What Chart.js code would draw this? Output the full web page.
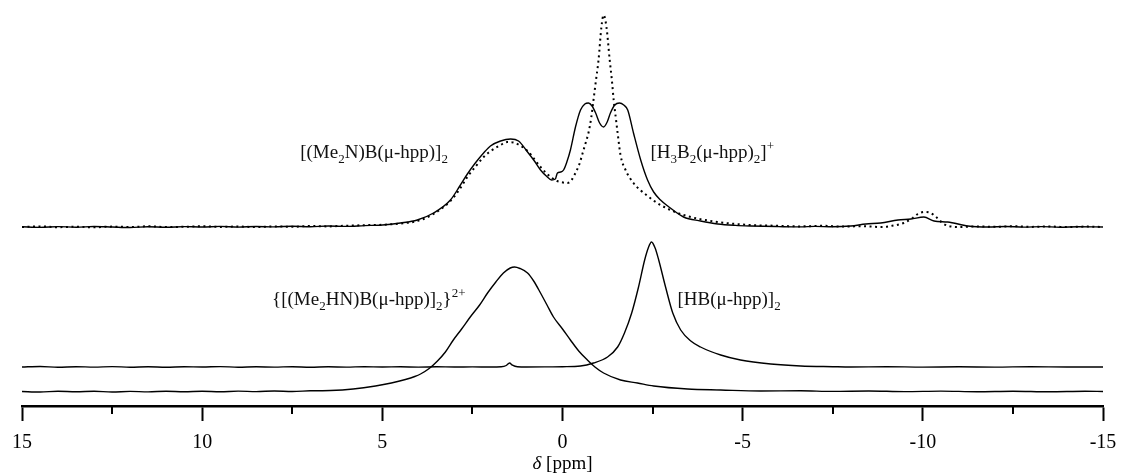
<!DOCTYPE html>
<html>
<head>
<meta charset="utf-8">
<script src="https://cdn.jsdelivr.net/npm/chart.js@4.4.1/dist/chart.umd.min.js"></script>
<style>
html, body { margin: 0; padding: 0; background: #fff; }
#wrap { width: 1121px; height: 475px; position: relative; }
</style>
</head>
<body>
<div id="wrap"><canvas id="nmrChart"></canvas></div>
<script>
// chemical shifts (ppm) and intensities (arbitrary units, stacked offsets)
const topSolidPpm = [15, 14.5, 14, 13.5, 13, 12.5, 12, 11.5, 11, 10.5, 10, 9.5, 9, 8.5, 8, 7.5, 7, 6.5, 6, 5.5, 5, 4.5, 4.03, 3.58, 3.11, 2.85, 2.64, 2.42, 2.19, 2.0, 1.72, 1.44, 1.22, 0.97, 0.78, 0.61, 0.45, 0.3, 0.2, 0.14, 0.05, -0.03, -0.12, -0.22, -0.36, -0.5, -0.62, -0.72, -0.82, -0.92, -1.03, -1.14, -1.24, -1.33, -1.45, -1.58, -1.7, -1.81, -1.97, -2.17, -2.36, -2.53, -2.72, -2.92, -3.36, -3.83, -4.31, -4.8, -5.22, -6, -6.61, -7, -7.5, -8, -8.42, -8.83, -9.31, -9.67, -10.03, -10.31, -10.69, -11.25, -11.81, -12.3, -12.8, -13.3, -13.8, -14.3, -15];
const topSolidInt = [179.2, 178.6, 179.4, 178.8, 179.5, 179, 178.5, 179.3, 178.7, 179.4, 179, 179.6, 178.9, 179.5, 179.1, 179.8, 179.3, 180, 179.6, 180.4, 181, 183, 186, 193, 206, 220, 232, 243, 253, 260, 265, 267, 265, 254, 245, 236, 230, 226, 227, 233, 234, 236, 244, 256, 279, 296, 302, 303, 300, 293, 283, 279, 284, 293, 301, 303, 301, 296, 273, 246, 226, 214, 206, 200, 189, 185, 182, 180.6, 180, 179.4, 179.1, 179.6, 179.2, 180, 182, 183, 186, 187, 189, 185, 184, 180, 179, 179.5, 178.9, 179.4, 178.8, 179.3, 179];

const topDottedPpm = [15, 14.5, 14, 13.5, 13, 12.5, 12, 11.5, 11, 10.5, 10, 9.5, 9, 8.5, 8, 7.5, 7, 6.5, 6, 5.5, 5, 4.5, 4.03, 3.58, 3.11, 2.85, 2.64, 2.4, 2.19, 1.95, 1.72, 1.53, 1.35, 1.25, 0.97, 0.61, 0.33, 0.15, 0.05, -0.14, -0.25, -0.36, -0.46, -0.56, -0.65, -0.72, -0.8, -0.86, -0.93, -1.0, -1.08, -1.14, -1.22, -1.31, -1.37, -1.42, -1.48, -1.53, -1.61, -1.75, -1.97, -2.36, -2.72, -3.36, -4.31, -5.22, -6, -6.61, -7.2, -7.8, -8.3, -8.83, -9.11, -9.47, -9.72, -9.86, -10.03, -10.22, -10.4, -10.58, -10.97, -11.5, -12, -12.5, -13, -13.5, -14, -14.5, -15];
const topDottedInt = [179, 179.6, 178.8, 179.3, 178.7, 179.4, 179, 179.7, 178.9, 179.2, 179.8, 179.1, 179.5, 178.9, 179.6, 179.2, 180, 179.6, 180.3, 180.8, 181.2, 182.5, 185, 192, 205, 217, 229, 240, 249, 256, 261, 264, 263.5, 262, 255, 239, 229, 225, 224, 223, 226, 233, 241, 253, 264, 273, 289, 306, 326, 346, 379, 391, 379, 346, 326, 306, 288, 273, 251, 236, 223, 210, 201, 191, 184, 181, 180.2, 179.6, 180.2, 179.4, 179.8, 179, 180, 183, 188, 192, 194, 193, 188, 182, 179, 179.6, 179.2, 179.8, 179.1, 179.5, 178.9, 179.4, 179];

const hydridePpm = [15, 14.5, 14, 13.5, 13, 12.5, 12, 11.5, 11, 10.5, 10, 9.5, 9, 8.5, 8, 7.5, 7, 6.5, 6, 5.5, 5, 4.5, 4, 3.5, 3, 2.5, 2, 1.7, 1.56, 1.47, 1.39, 1.25, 1, 0.5, 0, -0.5, -0.86, -1.25, -1.53, -1.72, -1.92, -2.11, -2.28, -2.38, -2.47, -2.57, -2.67, -2.86, -3.06, -3.28, -3.56, -3.83, -4.39, -4.94, -5.78, -6.61, -7.5, -8, -9, -10, -11, -12, -13, -14, -15];
const hydrideInt = [39, 39.5, 38.7, 39.3, 38.9, 39.4, 38.8, 39.2, 38.7, 39.3, 39, 39.4, 38.8, 39.2, 38.9, 39.3, 38.8, 39.2, 38.9, 39.3, 39, 39.2, 38.9, 39.2, 39, 39.1, 39, 39.2, 40.5, 43, 40.8, 39.2, 39, 39.1, 39.3, 40, 43, 49, 59, 73, 93, 119, 146, 158, 164, 158, 146, 119, 93, 76, 65, 59, 51, 46, 42, 40, 39.3, 39, 39.3, 38.9, 39.2, 38.9, 39.3, 39, 39];

const dicationPpm = [15, 14.5, 14, 13.5, 13, 12.5, 12, 11.5, 11, 10.5, 10, 9.5, 9, 8.5, 8, 7.5, 7, 6.44, 5.81, 5.19, 4.75, 4.36, 4.1, 3.94, 3.7, 3.47, 3.25, 3.03, 2.8, 2.56, 2.3, 2.08, 1.85, 1.64, 1.45, 1.33, 1.18, 0.97, 0.8, 0.61, 0.43, 0.25, 0, -0.22, -0.45, -0.69, -0.9, -1.14, -1.61, -2.08, -2.53, -3.47, -4.39, -5.5, -6.61, -7.5, -8.5, -9.5, -10.5, -11.5, -12.5, -13.5, -14.5, -15];
const dicationInt = [14.5, 14, 14.8, 14.2, 14.7, 14, 14.6, 14.1, 14.8, 14.3, 14.7, 14.2, 14.9, 14.4, 15, 14.5, 15.2, 15.5, 17, 20, 23, 26.5, 29.5, 32, 37.5, 45, 54, 66, 77, 89, 101, 113, 124, 133, 138, 139, 137.5, 133, 125, 113, 101, 89, 77, 66, 55, 46, 39, 33, 26, 23, 20, 17, 16, 15, 15.2, 14.6, 15, 14.4, 14.9, 14.3, 14.8, 14.2, 14.7, 14.5];

const tickValues = [15, 10, 5, 0, -5, -10, -15];

// peak assignments: [text, 0 normal / 1 subscript / 2 superscript]
const labelParts = [
    [['[(Me', 0], ['2', 1], ['N)B(μ-hpp)]', 0], ['2', 1]],
    [['[H', 0], ['3', 1], ['B', 0], ['2', 1], ['(μ-hpp)', 0], ['2', 1], [']', 0], ['+', 2]],
    [['{[(Me', 0], ['2', 1], ['HN)B(μ-hpp)]', 0], ['2', 1], ['}', 0], ['2+', 2]],
    [['[HB(μ-hpp)]', 0], ['2', 1]]
];
const labelPpm = [7.28, -2.44, 8.06, -3.19];
const labelLevel = [248, 248, 101, 101];

function toPoints(xs, ys) {
    return xs.map(function(x, i) { return { x: x, y: ys[i] }; });
}

const serif = '"Liberation Serif", "DejaVu Serif", serif';

const minorTicks = {
    id: 'minorTicks',
    afterDraw(chart) {
        const c = chart.ctx;
        const xs = chart.scales.x;
        c.save();
        c.strokeStyle = '#000';
        c.lineWidth = 2;
        xs.ticks.forEach(function(t) {
            if (tickValues.indexOf(t.value) === -1) {
                const px = Math.round(xs.getPixelForValue(t.value));
                c.beginPath();
                c.moveTo(px, xs.top);
                c.lineTo(px, xs.top + 8);
                c.stroke();
            }
        });
        // axis title with italic delta
        const cx = xs.getPixelForValue(0);
        const y = xs.top + 63;
        c.fillStyle = '#000';
        c.textBaseline = 'alphabetic';
        c.font = 'italic 19px ' + serif;
        const w1 = c.measureText('δ').width;
        c.font = '19px ' + serif;
        const w2 = c.measureText(' [ppm]').width;
        let x0 = cx - (w1 + w2) / 2;
        c.font = 'italic 19px ' + serif;
        c.fillText('δ', x0, y);
        c.font = '19px ' + serif;
        c.fillText(' [ppm]', x0 + w1, y);
        c.restore();
    }
};

const peakLabels = {
    id: 'peakLabels',
    afterDatasetsDraw(chart) {
        const c = chart.ctx;
        const xs = chart.scales.x, ys = chart.scales.y;
        c.save();
        c.fillStyle = '#111';
        c.textBaseline = 'alphabetic';
        labelParts.forEach(function(parts, i) {
            let x = xs.getPixelForValue(labelPpm[i]);
            const y = ys.getPixelForValue(labelLevel[i]);
            parts.forEach(function(p) {
                c.font = (p[1] === 0 ? '19px ' : '13px ') + serif;
                const dy = p[1] === 1 ? 5 : (p[1] === 2 ? -8 : 0);
                c.fillText(p[0], x, y + dy);
                x += c.measureText(p[0]).width;
            });
        });
        c.restore();
    }
};

const solid = { borderColor: '#000', borderWidth: 1.4, pointRadius: 0, fill: false, cubicInterpolationMode: 'monotone' };

const ctx = document.getElementById('nmrChart').getContext('2d');
const nmrChart = new Chart(ctx, {
    type: 'line',
    data: {
        datasets: [
            Object.assign({ label: 'Dication', data: toPoints(dicationPpm, dicationInt) }, solid),
            Object.assign({ label: 'HB(hpp) dimer', data: toPoints(hydridePpm, hydrideInt) }, solid),
            {
                label: 'Reaction (dotted)',
                data: toPoints(topDottedPpm, topDottedInt),
                borderColor: '#000',
                borderWidth: 2,
                borderDash: [2, 3.5],
                pointRadius: 0,
                fill: false,
                cubicInterpolationMode: 'monotone'
            },
            Object.assign({ label: 'Reaction', data: toPoints(topSolidPpm, topSolidInt) }, solid)
        ]
    },
    options: {
        responsive: true,
        maintainAspectRatio: false,
        animation: false,
        layout: { padding: { top: 6, left: 22, right: 18, bottom: 10 } },
        plugins: {
            legend: { display: false },
            tooltip: { enabled: false }
        },
        scales: {
            x: {
                type: 'linear',
                reverse: true,
                min: -15,
                max: 15,
                afterFit: function(s) { s.paddingLeft = 0; s.paddingRight = 0; },
                border: { display: true, color: '#000', width: 2.5 },
                grid: {
                    drawOnChartArea: false,
                    drawTicks: true,
                    tickLength: 15,
                    tickWidth: 2,
                    tickColor: function(c) {
                        return (c.tick && tickValues.indexOf(c.tick.value) !== -1) ? '#000' : 'rgba(0,0,0,0)';
                    }
                },
                ticks: {
                    stepSize: 2.5,
                    autoSkip: false,
                    maxRotation: 0,
                    padding: 10,
                    color: '#000',
                    font: { family: serif, size: 20 },
                    callback: function(v) { return tickValues.indexOf(v) !== -1 ? String(v) : ''; }
                }
            },
            y: { display: false, min: 0, max: 400 }
        }
    },
    plugins: [minorTicks, peakLabels]
});
</script>
</body>
</html>
